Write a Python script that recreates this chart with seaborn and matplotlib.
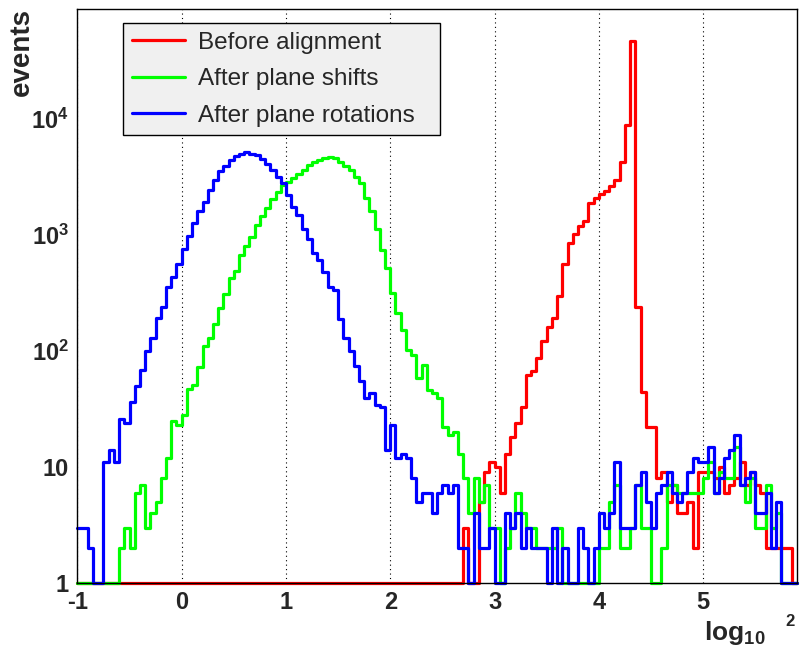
import numpy as np
import pandas as pd
import seaborn as sns
import matplotlib.pyplot as plt
from matplotlib.lines import Line2D
from matplotlib.ticker import FixedLocator, MultipleLocator, LogLocator, NullFormatter

# histogram binning (0.05 wide bins from -1 to 5.9)
x_lo, x_hi, n_bins = -1.0, 5.9, 138

before = [0] * 74 + [
    3, 0, 0, 5, 9, 11,
    10, 6, 13, 18, 24, 33, 62, 67, 87, 122,
    162, 193, 296, 560, 857, 1020, 1180, 1310, 1870, 2080,
    2230, 2400, 2660, 2960, 4280, 8890, 47000, 239, 44, 22,
    22, 8, 9, 5, 7, 4, 4, 5, 2, 9,
    9, 9, 8, 10, 6, 7, 8, 11, 7, 9,
    7, 6, 2, 2, 2, 2, 2, 0]

shifts = [
    0, 0, 0, 0, 0, 0, 0, 0, 2, 3,
    2, 6, 7, 3, 4, 5, 8, 12, 25, 23,
    28, 47, 51, 72, 110, 128, 172, 232, 309, 427,
    486, 677, 800, 965, 1210, 1440, 1690, 2050, 2350, 2680,
    2860, 3060, 3350, 3600, 3990, 4270, 4400, 4550, 4650, 4550,
    4270, 3910, 3600, 3160, 2770, 2080, 1600, 1120, 738, 513,
    313, 213, 151, 101, 92, 58, 75, 46, 43, 39,
    22, 19, 20, 13, 8, 4, 8, 5, 7, 3,
    3, 0, 2, 3, 6, 4, 3, 3, 2, 2,
    2, 2, 3, 0, 0, 0, 0, 0, 0, 0,
    2, 2, 5, 7, 2, 2, 3, 7, 3, 3,
    0, 0, 2, 7, 7, 6, 6, 6, 6, 6,
    8, 11, 6, 9, 8, 8, 15, 7, 5, 8,
    3, 3, 7, 3, 4, 0, 0, 0]

rotations = [
    3, 3, 2, 0, 0, 11, 14, 11, 26, 24,
    36, 50, 68, 99, 130, 192, 240, 357, 435, 565,
    760, 980, 1260, 1620, 1920, 2430, 2960, 3560, 3900, 4380,
    4740, 4980, 5200, 4980, 4870, 4470, 4070, 3600, 3160, 2770,
    2200, 1740, 1480, 1114, 913, 700, 613, 479, 356, 334,
    190, 128, 100, 74, 55, 39, 43, 34, 33, 14,
    23, 12, 13, 12, 8, 5, 6, 6, 4, 6,
    7, 6, 7, 2, 2, 0, 4, 2, 2, 3,
    0, 0, 4, 3, 4, 2, 3, 2, 2, 2,
    0, 3, 0, 2, 0, 0, 3, 2, 0, 2,
    4, 3, 4, 11, 3, 3, 3, 7, 9, 5,
    3, 6, 7, 9, 6, 5, 6, 9, 12, 11,
    11, 15, 6, 8, 12, 14, 19, 7, 8, 9,
    4, 4, 6, 2, 5, 0, 0, 0]

series_names = ["Before alignment", "After plane shifts", "After plane rotations"]
series_colors = ["#ff0000", "#00ff00", "#0000ff"]
x_ticks = [-1, 0, 1, 2, 3, 4, 5]
y_ticks = [1, 10, 100, 1000, 10000]
y_tick_labels = ["1", "10", r"$\mathbf{10^{2}}$", r"$\mathbf{10^{3}}$", r"$\mathbf{10^{4}}$"]

sns.set_style("white")
plt.rcParams['font.family'] = ['Liberation Sans', 'DejaVu Sans']
plt.rcParams['mathtext.fontset'] = 'custom'
plt.rcParams['mathtext.rm'] = 'Liberation Sans'
plt.rcParams['mathtext.bf'] = 'Liberation Sans:bold'
plt.rcParams['mathtext.it'] = 'Liberation Sans:italic'

bin_w = (x_hi - x_lo) / n_bins
centers = x_lo + bin_w * (np.arange(n_bins) + 0.5)

fig = plt.figure(figsize=(8, 6.47), dpi=100)
ax = fig.add_axes([77.4 / 800, 1 - 583 / 647, (797 - 77.4) / 800, (583 - 9) / 647])

# empty bins sit on the floor of the log axis, like in ROOT
for name, color, counts in zip(series_names, series_colors, [before, shifts, rotations]):
    df = pd.DataFrame({"x": centers, "n": np.maximum(counts, 1)})
    sns.histplot(data=df, x="x", weights="n", bins=n_bins, binrange=(x_lo, x_hi),
                 element="step", fill=False, color=color, linewidth=2.3,
                 clip_on=False, ax=ax)

ax.set_yscale('log')
ax.set_xlim(x_lo, x_hi)
ax.set_ylim(1, 10 ** 4.946)
ax.set_xlabel('')
ax.set_ylabel('')

ax.set_xticks(x_ticks)
ax.set_xticklabels([str(t) for t in x_ticks], fontsize=17, fontweight='bold')
ax.xaxis.set_minor_locator(MultipleLocator(0.2))
ax.yaxis.set_major_locator(FixedLocator(y_ticks))
ax.set_yticklabels(y_tick_labels, fontsize=17, fontweight='bold')
ax.yaxis.set_minor_locator(LogLocator(base=10, subs=np.arange(2, 10)))
ax.yaxis.set_minor_formatter(NullFormatter())
ax.tick_params(axis='x', which='major', direction='in', length=12, width=1, pad=6)
ax.tick_params(axis='x', which='minor', direction='in', length=6, width=1)
ax.tick_params(axis='y', which='major', direction='in', length=15, width=1, pad=6)
ax.tick_params(axis='y', which='minor', direction='in', length=8, width=1)

ax.set_axisbelow(True)
ax.xaxis.grid(True, which='major', color='black', linestyle=(0, (1, 3)), linewidth=0.8)
for sp in ax.spines.values():
    sp.set_color('black')
    sp.set_linewidth(1)

handles = [Line2D([], [], color=c, lw=2.3) for c in series_colors]
leg = ax.legend(handles, series_names, loc='upper left',
                bbox_to_anchor=(123 / 800, 1 - 131 / 647, 317 / 800, 108 / 647),
                bbox_transform=fig.transFigure, mode='expand', borderaxespad=0,
                fontsize=17.5, frameon=True, fancybox=False, facecolor='#f0f0f0',
                edgecolor='black', framealpha=1, handlelength=2.2, handletextpad=0.55,
                borderpad=0.35, labelspacing=0.6)
leg.get_frame().set_linewidth(1)

fig.text(22 / 800, 1 - 8 / 647, 'events', rotation=90, ha='center', va='top',
         fontsize=20, fontweight='bold')
fig.text(704 / 800, 1 - 640 / 647, r'$\mathbf{log_{10}}$', fontsize=19, va='baseline', ha='left')
fig.text(785 / 800, 1 - 626 / 647, '2', fontsize=12, fontweight='bold', va='baseline')

fig.savefig('out.png', dpi=100)
